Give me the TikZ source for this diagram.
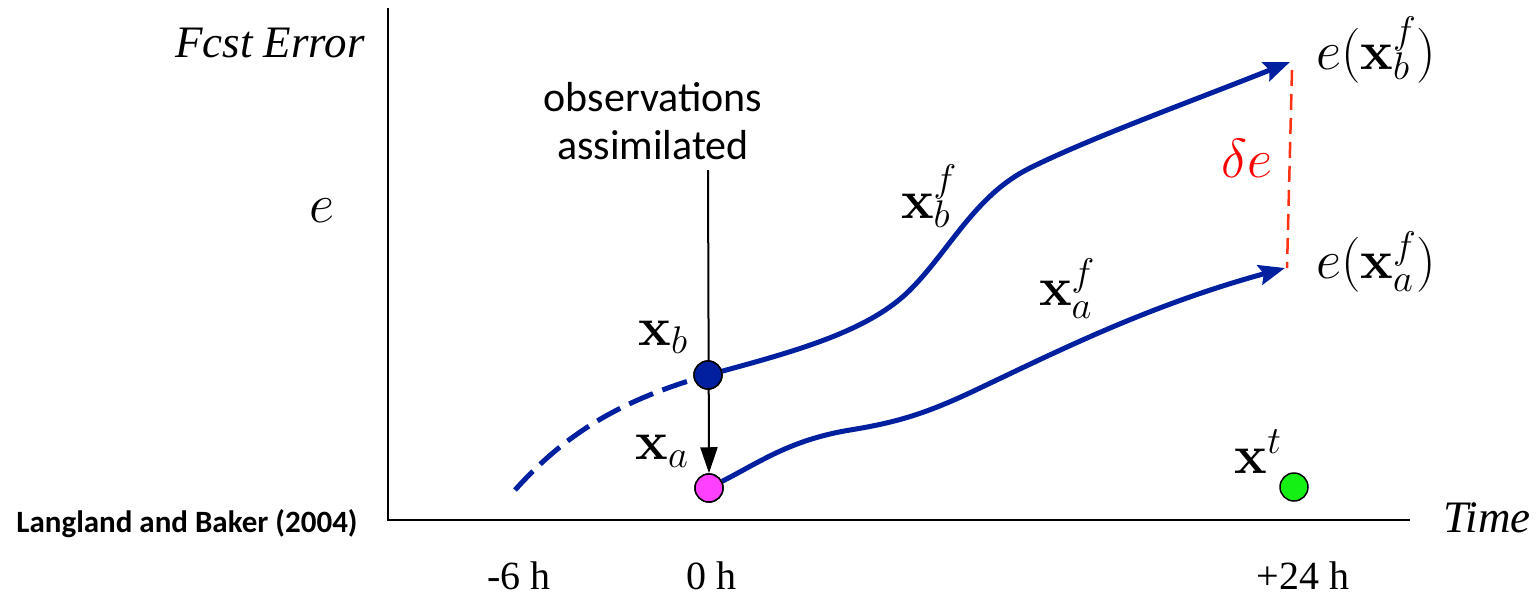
\RequirePackage{fix-cm}
\documentclass[tikz,border=0pt]{standalone}
\usepackage[no-math]{fontspec}
\setmainfont{Liberation Serif}
\newfontfamily\calibri{Carlito}
\usetikzlibrary{arrows.meta}
\definecolor{fblue}{RGB}{0,32,160}
\definecolor{fpink}{RGB}{255,64,255}
\definecolor{fgreen}{RGB}{20,240,20}
\definecolor{fred}{RGB}{255,50,20}
\newcommand\mfs{\fontsize{55}{60}\selectfont}
\newcommand\tfs{\fontsize{45}{50}\selectfont}
\begin{document}
\begin{tikzpicture}[x=1pt,y=-1pt,
  axis/.style={line width=2pt},
  bluecurve/.style={draw=fblue,line width=5pt},
  bluetip/.style={-{Stealth[length=26pt,width=20pt,inset=4pt]}},
  dot/.style={circle,draw=black,line width=1.5pt,minimum size=28pt,inner sep=0pt},
  mlabel/.style={anchor=base,font=\mfs,inner sep=0pt},
  tlabel/.style={anchor=base,font=\tfs,inner sep=0pt},
  hlabel/.style={anchor=base,font=\fontsize{40}{44}\selectfont,inner sep=0pt}]
\useasboundingbox (0,0) rectangle (1536,594);
% axes
\coordinate (ytop) at (388,8);
\coordinate (orig) at (388,520);
\coordinate (xend) at (1410,520);
\draw[axis] (ytop) -- (orig) -- (xend);
% axis texts
\node[tlabel] (ylab) at (270,58) {\itshape Fcst Error};
\node[tlabel] (xlab) at (1487,532) {\itshape Time};
\node[mlabel] (elab) at (322,222) {$e$};
\node[hlabel] (t1) at (519,589) {-6 h};
\node[hlabel] (t2) at (711,589) {0 h};
\node[hlabel] (t3) at (1303,589) {+24 h};
\node[anchor=base,inner sep=0pt,font=\calibri\bfseries\fontsize{31}{34}\selectfont] (ref) at (187,532) {Langland and Baker (2004)};
\node[align=center,inner sep=0pt,font=\calibri\fontsize{42}{48}\selectfont] (obs) at (653,121) {observations\\assimilated};
% key points
\coordinate (obsline) at (708,170);
\coordinate (tipb) at (1290,62);
\coordinate (tipa) at (1285,268);
\coordinate (dstart) at (515,490);
\coordinate (redtop) at (1292,70);
\coordinate (redbot) at (1287,268);
\node[dot,fill=fblue] (xb) at (708,375) {};
\node[dot,fill=fpink] (xa) at (709,488) {};
\node[dot,fill=fgreen] (xt) at (1294,487) {};
% dashed background trajectory
\draw[bluecurve,dash pattern=on 26pt off 10pt] (dstart) .. controls (560,440) and (610,405) .. (xb);
% forecasts
\draw[bluecurve,bluetip] (xb) .. controls (800,350) and (870,330) .. (910,290)
  .. controls (950,250) and (975,195) .. (1030,168)
  .. controls (1090,138) and (1200,98) .. (tipb);
\draw[bluecurve,bluetip] (xa) .. controls (760,462) and (790,440) .. (850,430)
  .. controls (900,422) and (930,412) .. (980,388)
  .. controls (1060,350) and (1150,305) .. (tipa);
% assimilation arrow
\draw[line width=2pt,-{Triangle[length=26pt,width=17pt]}] (obsline) -- (xa.north);
% error difference
\draw[fred,line width=2.5pt,dash pattern=on 16pt off 8pt] (redtop) -- (redbot);
% circles on top
\node[dot,fill=fblue] at (xb) {};
\node[dot,fill=fpink] at (xa) {};
% math labels
\node[mlabel] (lxb) at (663,345) {$\mathbf{x}_b$};
\node[mlabel] (lxa) at (662,459) {$\mathbf{x}_a$};
\node[mlabel] (lxt) at (1258,473) {$\mathbf{x}^t$};
\node[mlabel] (lxbf) at (929,218) {$\mathbf{x}_b^f$};
\node[mlabel] (lxaf) at (1067,305) {$\mathbf{x}_a^f$};
\node[mlabel] (ebf) at (1376,70) {$e(\mathbf{x}_b^f)$};
\node[mlabel] (eaf) at (1376,278) {$e(\mathbf{x}_a^f)$};
\node[mlabel,text=red] (de) at (1247,177) {$\delta e$};
\end{tikzpicture}
\end{document}
